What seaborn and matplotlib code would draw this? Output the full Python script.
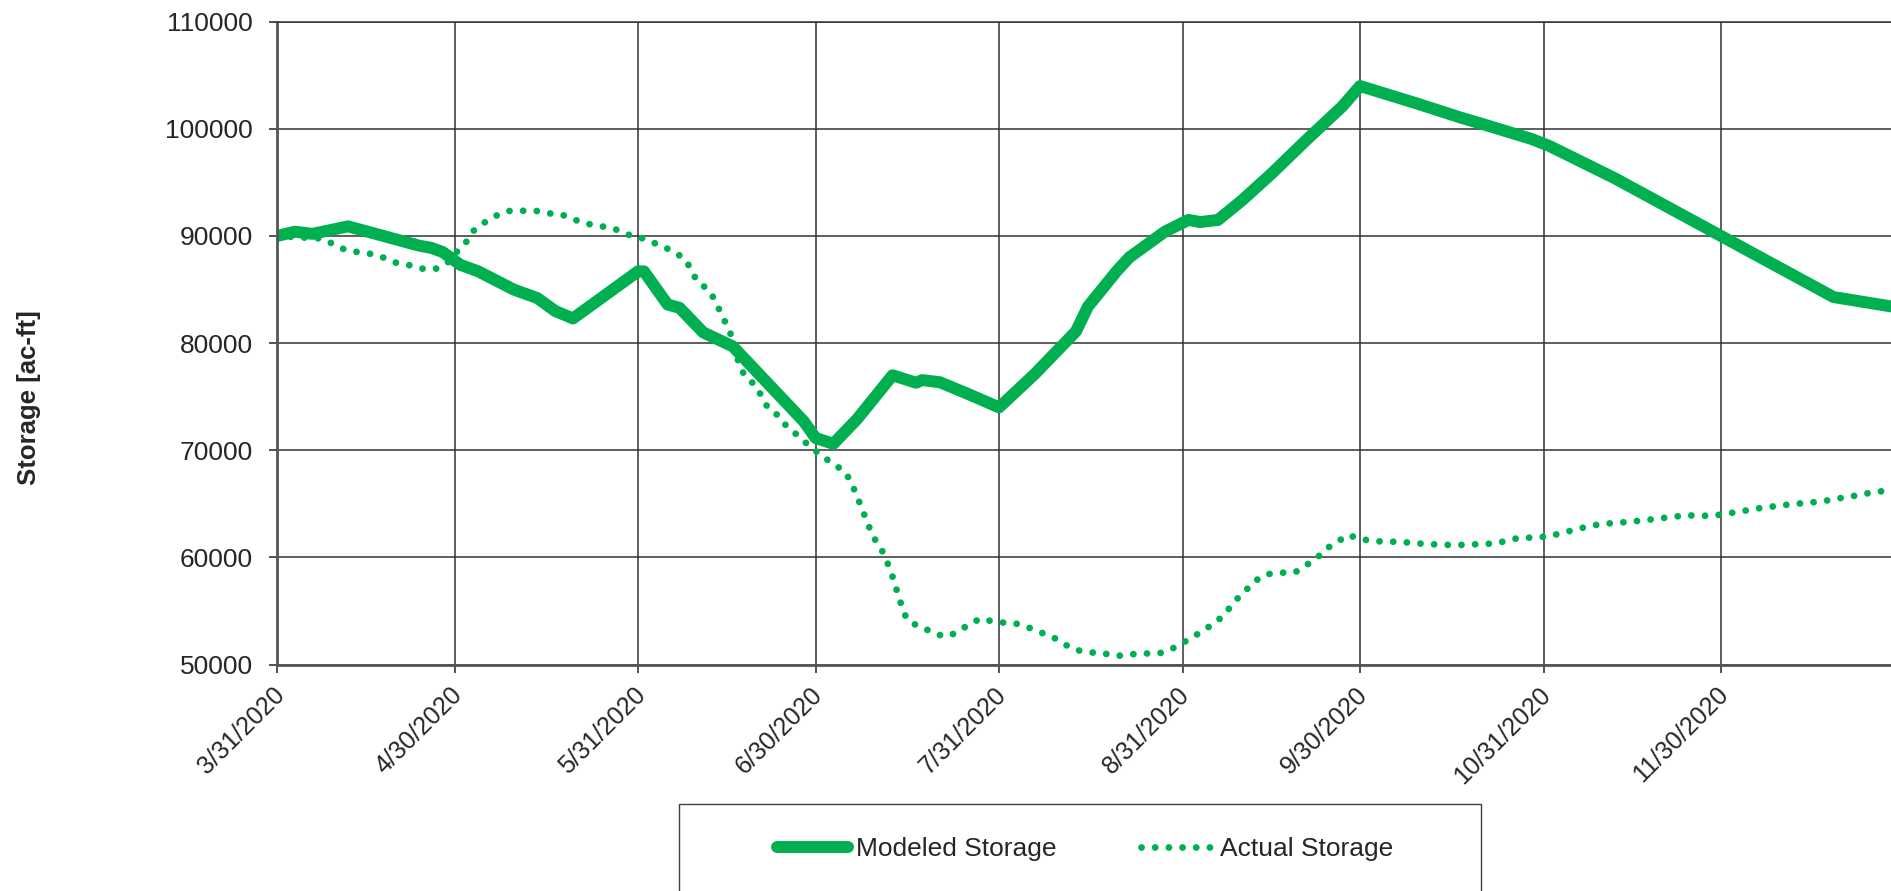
import pandas as pd
import seaborn as sns
import matplotlib.pyplot as plt
import matplotlib.transforms as mtransforms
from matplotlib.patches import Rectangle

sns.set_style('white')
plt.rcParams['font.family'] = ['Liberation Sans', 'DejaVu Sans']

GREEN = '#00B050'

# modeled storage
modeled_dates = [
    '2020-03-31', '2020-04-03', '2020-04-06', '2020-04-12', '2020-04-17', '2020-04-24',
    '2020-04-26', '2020-04-28', '2020-05-01', '2020-05-04', '2020-05-10', '2020-05-14',
    '2020-05-17', '2020-05-20', '2020-05-29', '2020-05-31', '2020-06-01', '2020-06-05',
    '2020-06-07', '2020-06-11', '2020-06-16', '2020-06-28', '2020-06-30', '2020-07-03',
    '2020-07-07', '2020-07-13', '2020-07-17', '2020-07-18', '2020-07-21', '2020-07-26',
    '2020-07-31', '2020-08-06', '2020-08-13', '2020-08-15', '2020-08-20', '2020-08-22',
    '2020-08-28', '2020-09-01', '2020-09-03', '2020-09-06', '2020-09-10', '2020-09-15',
    '2020-09-21', '2020-09-27', '2020-09-30', '2020-10-10', '2020-10-17', '2020-10-21',
    '2020-10-29', '2020-11-01', '2020-11-12', '2020-11-30', '2020-12-19', '2020-12-29',
]
modeled_values = [
    90000, 90400, 90200, 90900, 90150, 89100,
    88900, 88500, 87300, 86700, 85000, 84200,
    83000, 82300, 85900, 86700, 86700, 83600,
    83300, 81000, 79700, 72700, 71150, 70600,
    72900, 77000, 76300, 76550, 76350, 75200,
    74000, 77100, 81100, 83400, 86800, 88000,
    90400, 91500, 91300, 91500, 93300, 95800,
    99000, 102100, 104000, 102300, 101050, 100400,
    99050, 98400, 95400, 90000, 84300, 83400,
]

# actual storage
actual_dates = [
    '2020-03-31', '2020-04-07', '2020-04-09', '2020-04-11', '2020-04-14', '2020-04-16',
    '2020-04-18', '2020-04-20', '2020-04-23', '2020-04-25', '2020-04-27', '2020-04-29',
    '2020-04-30', '2020-05-02', '2020-05-03', '2020-05-05', '2020-05-07', '2020-05-09',
    '2020-05-11', '2020-05-14', '2020-05-16', '2020-05-18', '2020-05-20', '2020-05-22',
    '2020-05-24', '2020-05-27', '2020-05-29', '2020-05-31', '2020-06-02', '2020-06-04',
    '2020-06-06', '2020-06-08', '2020-06-09', '2020-06-10', '2020-06-12', '2020-06-13',
    '2020-06-14', '2020-06-15', '2020-06-16', '2020-06-17', '2020-06-18', '2020-06-20',
    '2020-06-21', '2020-06-22', '2020-06-24', '2020-06-25', '2020-06-27', '2020-06-29',
    '2020-07-01', '2020-07-03', '2020-07-05', '2020-07-06', '2020-07-07', '2020-07-08',
    '2020-07-09', '2020-07-10', '2020-07-11', '2020-07-12', '2020-07-13', '2020-07-14',
    '2020-07-15', '2020-07-16', '2020-07-18', '2020-07-20', '2020-07-22', '2020-07-24',
    '2020-07-26', '2020-07-28', '2020-07-30', '2020-08-01', '2020-08-03', '2020-08-05',
    '2020-08-07', '2020-08-09', '2020-08-11', '2020-08-13', '2020-08-16', '2020-08-18',
    '2020-08-20', '2020-08-22', '2020-08-25', '2020-08-27', '2020-08-29', '2020-08-31',
    '2020-09-02', '2020-09-04', '2020-09-06', '2020-09-08', '2020-09-09', '2020-09-11',
    '2020-09-12', '2020-09-14', '2020-09-16', '2020-09-19', '2020-09-21', '2020-09-23',
    '2020-09-24', '2020-09-26', '2020-09-28', '2020-09-30', '2020-10-03', '2020-10-07',
    '2020-10-11', '2020-10-16', '2020-10-21', '2020-10-23', '2020-10-25', '2020-10-27',
    '2020-10-30', '2020-11-01', '2020-11-03', '2020-11-05', '2020-11-08', '2020-11-10',
    '2020-11-14', '2020-11-17', '2020-11-21', '2020-11-24', '2020-11-28', '2020-11-30',
    '2020-12-03', '2020-12-05', '2020-12-07', '2020-12-10', '2020-12-12', '2020-12-14',
    '2020-12-16', '2020-12-19', '2020-12-21', '2020-12-23', '2020-12-25', '2020-12-28',
    '2020-12-29',
]
actual_values = [
    90000, 89780, 89380, 88820, 88450, 88320,
    87980, 87520, 87200, 86890, 86960, 87600,
    88300, 89470, 90400, 91240, 91890, 92330,
    92360, 92330, 92110, 92020, 91580, 91180,
    90990, 90680, 90160, 89940, 89500, 89070,
    88540, 87830, 86800, 85750, 84940, 83980,
    82800, 81650, 80400, 78140, 76960, 75960,
    74880, 73910, 73110, 72300, 71370, 70370,
    69500, 68720, 67980, 67000, 65700, 64300,
    62900, 61700, 60900, 59700, 58200, 56400,
    54700, 53900, 53500, 52900, 52600, 53000,
    53800, 54300, 54000, 53900, 53800, 53450,
    53000, 52600, 51900, 51350, 51100, 51000,
    50800, 50950, 51030, 51030, 51400, 52000,
    52650, 53350, 54100, 55300, 56000, 57100,
    57700, 58400, 58560, 58600, 59300, 60100,
    60700, 61400, 62100, 61700, 61500, 61440,
    61250, 61140, 61250, 61300, 61600, 61830,
    61850, 62000, 62250, 62550, 62950, 63120,
    63300, 63460, 63730, 63920, 63880, 63990,
    64260, 64450, 64640, 64830, 64980, 65060,
    65170, 65400, 65630, 65780, 66010, 66240,
    66350,
]

tick_dates = ['2020-03-31', '2020-04-30', '2020-05-31', '2020-06-30', '2020-07-31',
              '2020-08-31', '2020-09-30', '2020-10-31', '2020-11-30']
tick_labels = ['3/31/2020', '4/30/2020', '5/31/2020', '6/30/2020', '7/31/2020',
               '8/31/2020', '9/30/2020', '10/31/2020', '11/30/2020']
y_ticks = [50000, 60000, 70000, 80000, 90000, 100000, 110000]

modeled = pd.DataFrame({'Date': pd.to_datetime(modeled_dates), 'Storage': modeled_values})
actual = pd.DataFrame({'Date': pd.to_datetime(actual_dates), 'Storage': actual_values})

fig = plt.figure(figsize=(18.91, 8.91), dpi=100)
ax = fig.add_axes([0.1465, 0.2542, 0.8535, 0.7214])

sns.lineplot(data=modeled, x='Date', y='Storage', ax=ax, color=GREEN, linewidth=8.6,
             solid_capstyle='round', solid_joinstyle='round', label='Modeled Storage')
sns.lineplot(data=actual, x='Date', y='Storage', ax=ax, color=GREEN, linewidth=4.9,
             linestyle=(0, (0.01, 2.0)), dash_capstyle='round', label='Actual Storage')

ax.set_xticks(pd.to_datetime(tick_dates))
ax.set_xticklabels(tick_labels, rotation=45, ha='right', rotation_mode='anchor',
                   fontsize=18)
ax.set_yticks(y_ticks)
ax.set_yticklabels([str(v) for v in y_ticks], fontsize=19)
ax.set_xlim(pd.Timestamp('2020-03-31'), pd.Timestamp('2020-12-28 17:00'))
ax.set_ylim(50000, 110000)

ax.grid(True, color='#333333', lw=1.1)
ax.set_axisbelow(True)
ax.tick_params(axis='both', bottom=True, left=True, direction='out', length=6,
               width=1.2, color='#333333')
ax.tick_params(axis='y', pad=11.5)
ax.tick_params(axis='x', pad=7)
shift = mtransforms.ScaledTranslation(-5 / 100, 0, fig.dpi_scale_trans)
for lbl in ax.get_xticklabels():
    lbl.set_transform(lbl.get_transform() + shift)
for side in ['left', 'bottom']:
    ax.spines[side].set_color('#555555')
    ax.spines[side].set_linewidth(2)
ax.spines['top'].set_color('#333333')
ax.spines['top'].set_linewidth(1.1)
ax.spines['right'].set_visible(False)

ax.set_xlabel('')
ax.set_ylabel('Storage [ac-ft]', fontsize=18.5, fontweight='bold')
ax.yaxis.set_label_coords(-0.146, 0.415)

# legend box runs past the bottom edge
fig.patches.append(Rectangle((679 / 1891, -0.05), 802 / 1891, 0.05 + 87 / 891,
                             transform=fig.transFigure, fill=False,
                             edgecolor='#404040', lw=1))
ax.legend(loc='center', bbox_to_anchor=(1085 / 1891, 1 - 849 / 891),
          bbox_transform=fig.transFigure, ncol=2, frameon=False, fontsize=19,
          handlelength=2.7, handletextpad=0.3, columnspacing=3.2)

plt.savefig('out.png', dpi=100)
